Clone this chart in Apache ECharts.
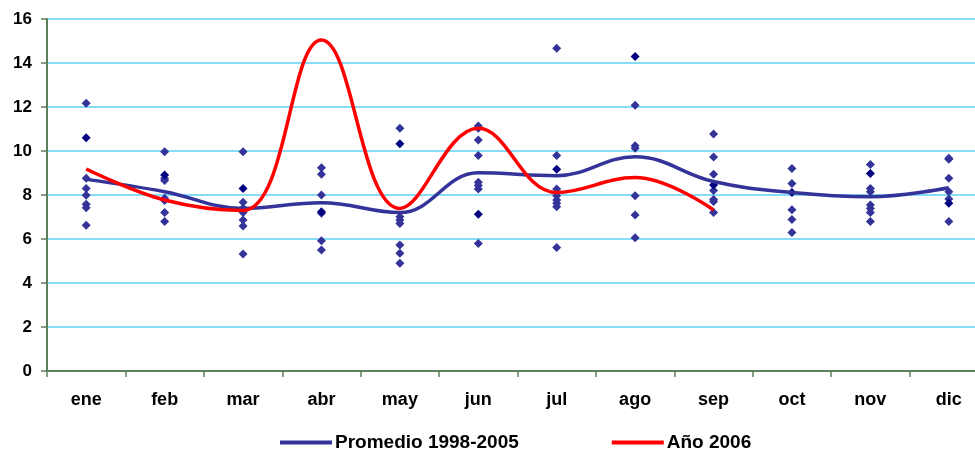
<!DOCTYPE html>
<html>
<head>
<meta charset="utf-8">
<script src="https://cdn.jsdelivr.net/npm/echarts@6/dist/echarts.min.js"></script>
<style>html,body{margin:0;padding:0;background:#fff}#c{width:975px;height:451px}</style>
</head>
<body>
<div id="c"></div>
<script>
const months = ['ene','feb','mar','abr','may','jun','jul','ago','sep','oct','nov','dic'];
const yTicks = [0, 2, 4, 6, 8, 10, 12, 14, 16];
const promedio = [8.71, 8.15, 7.39, 7.65, 7.2, 9.01, 8.88, 9.74, 8.61, 8.11, 7.92, 8.33];
const ano2006 = [9.18, 7.77, 7.3, 15.05, 7.39, 11.03, 8.11, 8.79, 7.32, null, null, null];
// individual yearly values 1998-2005 per month
const yearlyObs = [
  [12.17, 8.76, 8.30, 7.99, 7.58, 7.42, 6.63],
  [9.97, 8.75, 8.66, 7.85, 7.75, 7.21, 6.79],
  [9.97, 7.67, 7.40, 7.2, 6.86, 6.59, 5.32],
  [9.24, 8.94, 8.0, 7.17, 5.92, 5.5],
  [11.03, 7.01, 6.86, 6.71, 5.73, 5.35, 4.90],
  [11.14, 11.03, 10.5, 9.79, 8.58, 8.43, 8.27, 5.80],
  [14.67, 9.79, 8.27, 7.97, 7.77, 7.62, 7.47, 5.61],
  [12.08, 10.24, 10.12, 7.97, 7.09, 6.06],
  [10.77, 9.73, 8.94, 8.2, 7.80, 7.70, 7.20],
  [9.20, 8.52, 7.33, 6.89, 6.29],
  [9.39, 8.30, 8.15, 7.55, 7.39, 7.20, 6.79],
  [9.67, 9.62, 8.76, 8.15, 7.82, 6.79]
];
const yearlyObsDark = [10.60, 8.91, 8.30, 7.24, 10.33, 7.12, 9.17, 14.29, 8.45, 8.11, 8.98, 7.62];

const obsPoints = [];
yearlyObs.forEach((arr, i) => arr.forEach(v => obsPoints.push([months[i], v])));
const darkPoints = yearlyObsDark.map((v, i) => [months[i], v]);

const chart = echarts.init(document.getElementById('c'));
const font = 'Liberation Sans, Arial, sans-serif';
chart.setOption({
  animation: false,
  backgroundColor: '#ffffff',
  grid: { left: 47, top: 19, height: 352, width: 941, containLabel: false, outerBoundsMode: 'none' },
  legend: {
    data: ['Promedio 1998-2005', 'Año 2006'],
    top: 428,
    left: 275,
    itemGap: 93,
    itemWidth: 52,
    itemHeight: 4,
    icon: 'rect',
    textStyle: { fontFamily: font, fontWeight: 'bold', fontSize: 19, color: '#000', padding: [0, 0, 0, -2] }
  },
  xAxis: {
    type: 'category',
    data: months,
    boundaryGap: true,
    axisLine: { lineStyle: { color: '#5C7F5C', width: 2 } },
    axisTick: { show: true, interval: 0, length: 6, lineStyle: { color: '#5C7F5C', width: 1.5 } },
    axisLabel: { margin: 20, fontFamily: font, fontWeight: 'bold', fontSize: 18, color: '#000' },
    splitLine: { show: false }
  },
  yAxis: {
    type: 'value',
    min: yTicks[0],
    max: yTicks[yTicks.length - 1],
    interval: 2,
    axisLine: { show: true, lineStyle: { color: '#5C7F5C', width: 2 } },
    axisTick: { show: true, length: 6, lineStyle: { color: '#5C7F5C', width: 1.5 } },
    axisLabel: { margin: 15, fontFamily: font, fontWeight: 'bold', fontSize: 17, color: '#000' },
    splitLine: { show: true, lineStyle: { color: '#5FD0F5', width: 1.5 } }
  },
  series: [
    {
      name: 'obs', type: 'scatter', data: obsPoints, symbol: 'diamond', symbolSize: 9,
      itemStyle: { color: '#333399', opacity: 1 }, z: 3
    },
    {
      name: 'obsDark', type: 'scatter', data: darkPoints, symbol: 'diamond', symbolSize: 9,
      itemStyle: { color: '#000080', opacity: 1 }, z: 3
    },
    {
      name: 'Promedio 1998-2005', type: 'line', data: promedio, smooth: 0.4,
      showSymbol: false, symbol: 'none', lineStyle: { color: '#333399', width: 3.5 },
      itemStyle: { color: '#333399' }, z: 4
    },
    {
      name: 'Año 2006', type: 'line', data: ano2006, smooth: 0.4,
      showSymbol: false, symbol: 'none', lineStyle: { color: '#FF0000', width: 3.5 },
      itemStyle: { color: '#FF0000' }, z: 5
    }
  ]
});
</script>
</body>
</html>
